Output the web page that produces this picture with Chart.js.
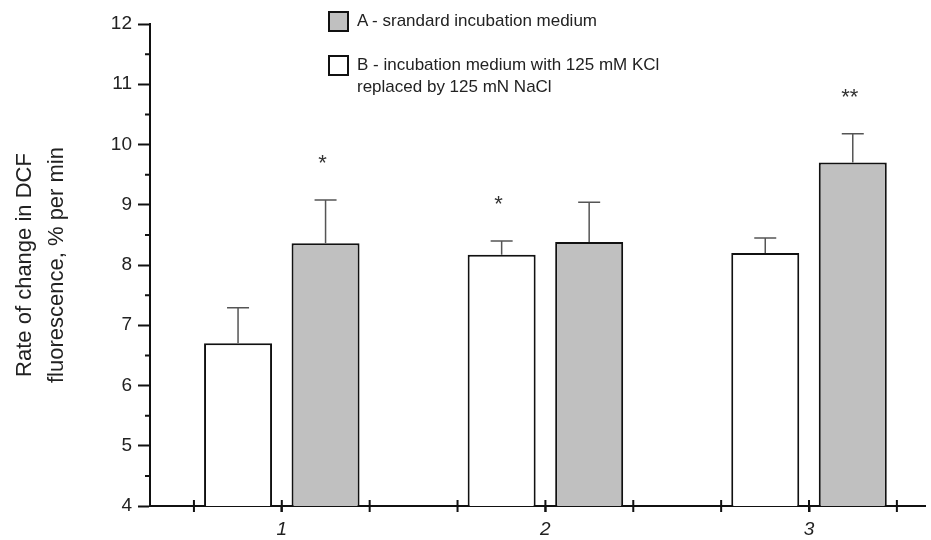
<!DOCTYPE html>
<html>
<head>
<meta charset="utf-8">
<script src="https://cdn.jsdelivr.net/npm/chart.js@4.4.1/dist/chart.umd.min.js"></script>
<style>
  html, body { margin: 0; padding: 0; background: #fff; }
  .wrap { position: relative; width: 931px; height: 540px; }
  .legend { position: absolute; left: 328px; top: 10px; font-family: "Liberation Sans", Arial, sans-serif; font-size: 17px; color: #222; line-height: 22px; }
  .legend .item { display: flex; align-items: flex-start; margin-bottom: 22px; }
  .legend .box { width: 17px; height: 17px; border: 2px solid #111; margin-right: 8px; margin-top: 1px; flex: none; }
</style>
</head>
<body>
<div class="wrap">
  <canvas id="chart" width="931" height="540"></canvas>
  <div class="legend">
    <div class="item"><span class="box" style="background:#c0c0c0"></span><span>A - srandard incubation medium</span></div>
    <div class="item"><span class="box" style="background:#fff"></span><span>B - incubation medium with 125 mM KCl<br>replaced by 125 mN NaCl</span></div>
  </div>
</div>
<script>
// data
const groups = [1, 2, 3];
const mediumB = [6.70, 8.17, 8.20];   // white bars
const errB = [0.59, 0.23, 0.25];
const mediumA = [8.36, 8.38, 9.70];   // gray bars
const errA = [0.72, 0.66, 0.48];
const sigB = ["", "*", ""];
const sigA = ["*", "", "**"];
const yTicks = [4, 4.5, 5, 5.5, 6, 6.5, 7, 7.5, 8, 8.5, 9, 9.5, 10, 10.5, 11, 11.5, 12];
const xMarks = [2, 3, 4, 5, 6, 7, 8, 9, 10].map((k) => k / 3);

const FONT = "'Liberation Sans', Arial, sans-serif";

// error bars + significance stars
const errorBars = {
  id: "errorBars",
  afterDatasetsDraw(chart) {
    const ctx = chart.ctx;
    const y = chart.scales.y;
    chart.data.datasets.forEach((ds, i) => {
      const meta = chart.getDatasetMeta(i);
      meta.data.forEach((bar, j) => {
        const top = y.getPixelForValue(ds.data[j].y + ds.err[j]);
        ctx.save();
        ctx.strokeStyle = "#555";
        ctx.lineWidth = 1.5;
        ctx.beginPath();
        ctx.moveTo(bar.x, bar.y);
        ctx.lineTo(bar.x, top);
        ctx.moveTo(bar.x - 11, top);
        ctx.lineTo(bar.x + 11, top);
        ctx.stroke();
        if (ds.sig[j]) {
          ctx.fillStyle = "#333";
          ctx.font = "22px " + FONT;
          ctx.textAlign = "center";
          ctx.textBaseline = "middle";
          ctx.fillText(ds.sig[j], bar.x - 3, top - 36);
        }
        ctx.restore();
      });
    });
  },
};

// minor y ticks and the crossing x tick marks
const axisTicks = {
  id: "axisTicks",
  afterDraw(chart) {
    const ctx = chart.ctx;
    const x = chart.scales.x, y = chart.scales.y;
    ctx.save();
    ctx.strokeStyle = "#111";
    ctx.lineWidth = 2;
    ctx.beginPath();
    y.ticks.forEach((t) => {
      if (Number.isInteger(t.value)) return;
      const py = y.getPixelForValue(t.value);
      ctx.moveTo(x.left - 5, py);
      ctx.lineTo(x.left, py);
    });
    xMarks.forEach((v) => {
      const px = x.getPixelForValue(v);
      ctx.moveTo(px, y.bottom - 6);
      ctx.lineTo(px, y.bottom + 6);
    });
    ctx.stroke();
    ctx.restore();
  },
};

new Chart(document.getElementById("chart"), {
  type: "bar",
  data: {
    datasets: [
      {
        label: "B - incubation medium with 125 mM KCl replaced by 125 mN NaCl",
        data: groups.map((g, i) => ({ x: g, y: mediumB[i] })),
        err: errB,
        sig: sigB,
        backgroundColor: "#ffffff",
        borderColor: "#111",
        borderWidth: 2,
      },
      {
        label: "A - srandard incubation medium",
        data: groups.map((g, i) => ({ x: g, y: mediumA[i] })),
        err: errA,
        sig: sigA,
        backgroundColor: "#c0c0c0",
        borderColor: "#111",
        borderWidth: 2,
      },
    ],
  },
  options: {
    responsive: false,
    animation: false,
    categoryPercentage: 0.664,
    barPercentage: 0.777,
    layout: { padding: { top: 24, right: 6, left: 0, bottom: 0 } },
    plugins: { legend: { display: false }, tooltip: { enabled: false } },
    scales: {
      x: {
        type: "linear",
        offset: false,
        min: 0.5,
        max: 3.44,
        afterBuildTicks: (scale) => {
          scale.ticks = groups.map((g) => ({ value: g }));
        },
        afterFit: (scale) => { scale.height = 34; },
        ticks: {
          autoSkip: false,
          maxRotation: 0,
          padding: 6,
          color: "#222",
          font: { family: FONT, size: 19, style: "italic" },
          callback: (v) => String(v),
        },
        grid: { offset: false, drawOnChartArea: false, tickLength: 6, tickColor: "#111", tickWidth: 2 },
        border: { color: "#111", width: 2 },
      },
      y: {
        min: 4,
        max: 12,
        afterBuildTicks: (scale) => {
          scale.ticks = yTicks.map((v) => ({ value: v }));
        },
        afterFit: (scale) => { scale.width = 150; },
        ticks: {
          autoSkip: false,
          padding: 6,
          color: "#222",
          font: { family: FONT, size: 19 },
          callback: (v) => (Number.isInteger(v) ? String(v) : ""),
        },
        grid: {
          drawOnChartArea: false,
          tickLength: 12,
          tickWidth: 2,
          tickColor: (c) => (c.tick && Number.isInteger(c.tick.value) ? "#111" : "rgba(0,0,0,0)"),
        },
        border: { color: "#111", width: 2 },
        title: {
          display: true,
          text: ["Rate of change in DCF", "fluorescence, % per min"],
          color: "#222",
          font: { family: FONT, size: 22, lineHeight: 1.45 },
          padding: { top: 9, bottom: 0 },
        },
      },
    },
  },
  plugins: [errorBars, axisTicks],
});
</script>
</body>
</html>
